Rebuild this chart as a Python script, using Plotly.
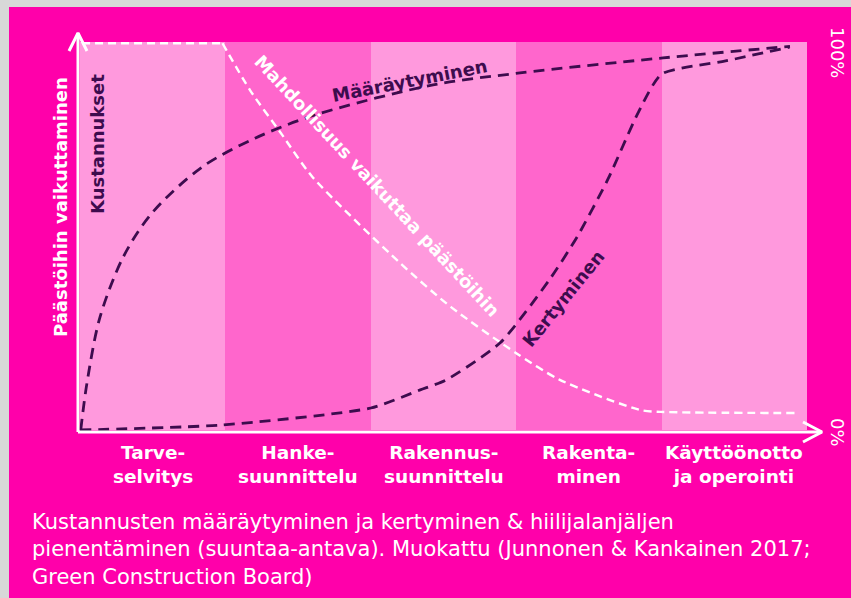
import plotly.graph_objects as go

# ---------------- data ----------------
phases = ["Tarve-<br>selvitys", "Hanke-<br>suunnittelu", "Rakennus-<br>suunnittelu",
          "Rakenta-<br>minen", "Käyttöönotto<br>ja operointi"]
band_height = [100.5, 100.5, 100.5, 100.5, 100.5]

# Määräytyminen (cost determination), % vs phase position
det_x = [0.005, 0.048, 0.138, 0.30, 0.495, 0.839, 1.204, 1.616, 2.428, 3.026, 4.01, 4.883]
det_y = [0, 12.2, 29.3, 45.0, 56.2, 68.1, 75.6, 81.6, 89.4, 92.5, 96.4, 99.4]

# Kertyminen (cost accumulation)
acc_x = [0, 0.98, 2.0, 2.34, 2.52, 2.89, 3.23, 3.42, 3.63, 3.84, 4.0, 4.44, 4.88]
acc_y = [0, 1.3, 5.7, 10.4, 13.0, 22.6, 39.0, 50.1, 64.9, 82.3, 92.2, 95.6, 99.2]

# Mahdollisuus vaikuttaa päästöihin (opportunity to influence emissions)
opp_x = [0.014, 0.98, 1.17, 1.38, 1.60, 2.2, 2.55, 3.0, 3.3, 3.85, 3.99, 4.93]
opp_y = [100.2, 100.2, 88, 77, 65.5, 43.3, 31.9, 19.9, 13.0, 5.2, 4.7, 4.4]

caption = ("Kustannusten määräytyminen ja kertyminen & hiilijalanjäljen<br>"
           "pienentäminen (suuntaa-antava). Muokattu (Junnonen & Kankainen 2017;<br>"
           "Green Construction Board)")

# ---------------- style ----------------
MAGENTA = "#FF00AA"
LIGHT = "#FF99DD"
MID = "#FF66CC"
DARK = "#3D0C4E"
GRAY = "#D8D8D8"
FONT = "DejaVu Sans"

W, H = 851, 598
# plot area in pixels
L, R, T, B = 60, 830, 25, 445
# data <-> pixel calibration
X0PX, XPX = 80, 145.4      # x=0 at 80px, px per unit
Y0PX, YPX = 430, 3.86      # y=0 at 430px, px per %

xmin = (L - X0PX) / XPX
xmax = (R - X0PX) / XPX
ymax = (Y0PX - T) / YPX
ymin = (Y0PX - B) / YPX


def dx(px):
    return (px - X0PX) / XPX


def dy(py):
    return (Y0PX - py) / YPX


def px_x(px):
    return (px - L) / (R - L)


def px_y(py):
    return (B - py) / (B - T)


fig = go.Figure()

# background bands
fig.add_trace(go.Bar(
    x=[i + 0.5 for i in range(len(phases))], y=band_height, width=1,
    marker=dict(color=[LIGHT, MID, LIGHT, MID, LIGHT], line=dict(width=0)),
    hoverinfo="skip", showlegend=False))

# curves
WHITE_LINE = dict(color="white", width=2.4, dash="8px,5px")
fig.add_trace(go.Scatter(x=opp_x[:2], y=opp_y[:2], mode="lines",
                         line=dict(**WHITE_LINE, shape="linear"),
                         hoverinfo="skip", showlegend=False))
fig.add_trace(go.Scatter(x=opp_x[1:], y=opp_y[1:], mode="lines",
                         line=dict(**WHITE_LINE, shape="spline", smoothing=0.7),
                         hoverinfo="skip", showlegend=False))
fig.add_trace(go.Scatter(x=det_x, y=det_y, mode="lines",
                         line=dict(color=DARK, width=2.8, dash="11px,7px",
                                   shape="spline", smoothing=0.9),
                         hoverinfo="skip", showlegend=False))
fig.add_trace(go.Scatter(x=acc_x, y=acc_y, mode="lines",
                         line=dict(color=DARK, width=2.8, dash="11px,7px",
                                   shape="spline", smoothing=0.6),
                         hoverinfo="skip", showlegend=False))

# axis arrows (white)
ax_x = dx(78)
ax_y = dy(432)
fig.add_trace(go.Scatter(x=[ax_x, ax_x, None, dx(69), ax_x, dx(87)],
                         y=[ax_y, dy(33), None, dy(51), dy(33), dy(51)],
                         mode="lines", line=dict(color="white", width=3),
                         hoverinfo="skip", showlegend=False))
fig.add_trace(go.Scatter(x=[ax_x, dx(822), None, dx(803), dx(822), dx(803)],
                         y=[ax_y, ax_y, None, dy(422), ax_y, dy(442)],
                         mode="lines", line=dict(color="white", width=3),
                         hoverinfo="skip", showlegend=False))

annotations = []
# category labels
for i, p in enumerate(phases):
    annotations.append(dict(x=i + 0.5, xref="x", y=px_y(440), yref="paper",
                            yanchor="top", xanchor="center", showarrow=False,
                            text="<b>" + p + "</b>", align="center",
                            font=dict(family=FONT, size=18.5, color="white")))


# rotated labels
def lab(text, cx, cy, angle, color, bold=True, size=18):
    t = "<b>" + text + "</b>" if bold else text
    annotations.append(dict(x=px_x(cx), y=px_y(cy), xref="paper", yref="paper",
                            xanchor="center", yanchor="middle", showarrow=False,
                            text=t, textangle=angle,
                            font=dict(family=FONT, size=size, color=color)))


lab("Päästöihin vaikuttaminen", 60, 207, -90, "white")
lab("Kustannukset", 97, 144, -90, DARK)
lab("Määräytyminen", 410, 81, -11, DARK)
lab("Mahdollisuus vaikuttaa päästöihin", 377, 185, 47, "white")
lab("Kertyminen", 563, 298, -51, DARK)
lab("100%", 838, 52, 90, "white", bold=False)
lab("0%", 838, 432, 90, "white", bold=False)

# caption
annotations.append(dict(x=px_x(30), y=px_y(508), xref="paper", yref="paper",
                        xanchor="left", yanchor="top", align="left", showarrow=False,
                        text=caption, font=dict(family=FONT, size=21, color="white")))

shapes = [
    # gray frame + magenta panel
    dict(type="rect", xref="paper", yref="paper", layer="below",
         x0=px_x(-5), x1=px_x(W + 5), y0=px_y(H + 5), y1=px_y(-5),
         fillcolor=GRAY, line=dict(width=0)),
    dict(type="rect", xref="paper", yref="paper", layer="below",
         x0=px_x(9), x1=px_x(W + 5), y0=px_y(H + 5), y1=px_y(7),
         fillcolor=MAGENTA, line=dict(width=0)),
]

fig.update_layout(
    width=W, height=H,
    margin=dict(l=L, r=W - R, t=T, b=H - B, pad=0),
    paper_bgcolor=MAGENTA, plot_bgcolor="rgba(0,0,0,0)",
    xaxis=dict(range=[xmin, xmax], visible=False, fixedrange=True),
    yaxis=dict(range=[ymin, ymax], visible=False, fixedrange=True),
    bargap=0, showlegend=False,
    annotations=annotations, shapes=shapes,
)

fig.write_html("out.html", config={"displayModeBar": False})
